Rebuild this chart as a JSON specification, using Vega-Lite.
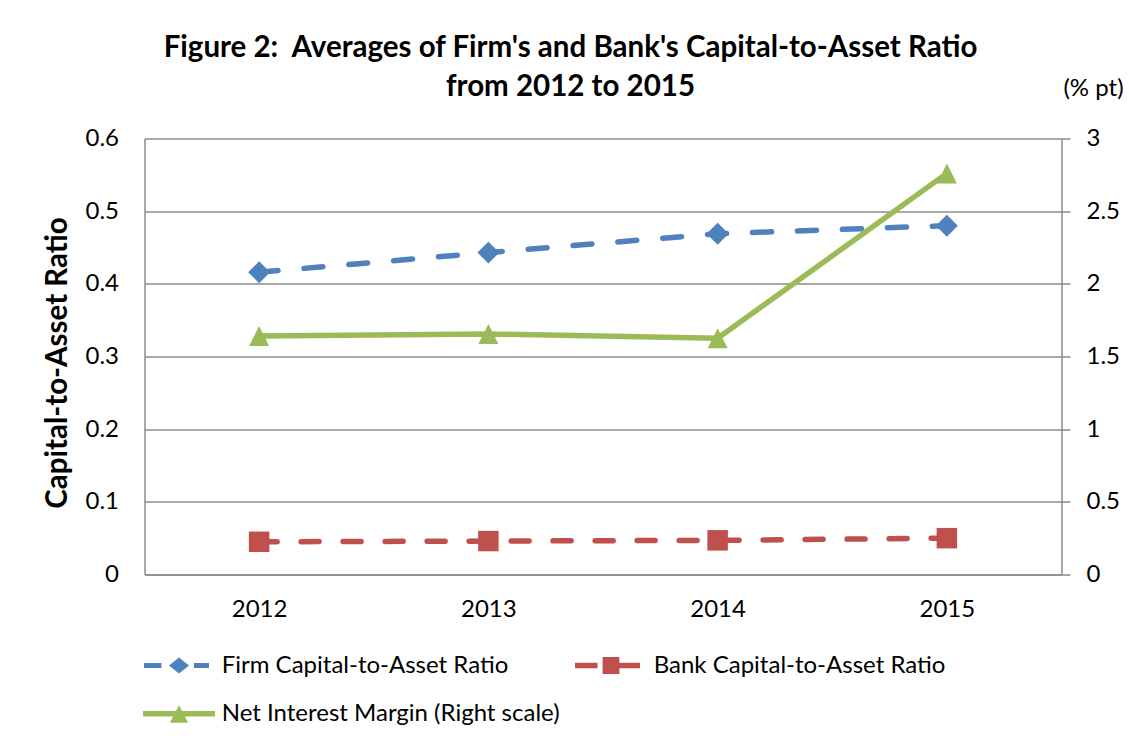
{
  "$schema": "https://vega.github.io/schema/vega-lite/v6.json",
  "width": 917,
  "height": 436,
  "autosize": {"type": "none"},
  "padding": {"left": 144.5, "top": 138.5, "right": 67.5, "bottom": 172},
  "background": "white",
  "title": {
    "text": ["Figure 2:\u00a0 Averages of Firm's and Bank's Capital-to-Asset Ratio", "from 2012 to 2015"],
    "font": "Lato",
    "fontSize": 29.5,
    "fontWeight": "bold",
    "color": "black",
    "anchor": "middle",
    "frame": "group",
    "dx": -32.5,
    "dy": 66,
    "lineHeight": 39,
    "offset": 40
  },
  "config": {
    "font": "Lato",
    "view": {"stroke": null},
    "axis": {
      "labelFont": "Lato",
      "labelFontSize": 24,
      "labelColor": "black",
      "titleFont": "Lato",
      "titleColor": "black",
      "domainColor": "#8c8c8c",
      "domainWidth": 1.5,
      "gridColor": "#8c8c8c",
      "gridWidth": 1.5,
      "tickColor": "#8c8c8c",
      "tickWidth": 1.5
    },
    "legend": {
      "labelFont": "Lato",
      "labelFontSize": 24,
      "labelColor": "black",
      "labelLimit": 0
    }
  },
  "data": {
    "values": [
      {"year": "2012", "series": "Firm Capital-to-Asset Ratio", "value": 0.416},
      {"year": "2013", "series": "Firm Capital-to-Asset Ratio", "value": 0.443},
      {"year": "2014", "series": "Firm Capital-to-Asset Ratio", "value": 0.469},
      {"year": "2015", "series": "Firm Capital-to-Asset Ratio", "value": 0.480},
      {"year": "2012", "series": "Bank Capital-to-Asset Ratio", "value": 0.045},
      {"year": "2013", "series": "Bank Capital-to-Asset Ratio", "value": 0.046},
      {"year": "2014", "series": "Bank Capital-to-Asset Ratio", "value": 0.047},
      {"year": "2015", "series": "Bank Capital-to-Asset Ratio", "value": 0.050},
      {"year": "2012", "series": "Net Interest Margin (Right scale)", "value": 1.641},
      {"year": "2013", "series": "Net Interest Margin (Right scale)", "value": 1.655},
      {"year": "2014", "series": "Net Interest Margin (Right scale)", "value": 1.625},
      {"year": "2015", "series": "Net Interest Margin (Right scale)", "value": 2.76}
    ]
  },
  "encoding": {
    "x": {
      "field": "year",
      "type": "ordinal",
      "scale": {"type": "point", "padding": 0.5},
      "axis": {"title": null, "labelAngle": 0, "ticks": false, "grid": false, "labelPadding": 23}
    }
  },
  "layer": [
    {
      "encoding": {
        "y": {
          "field": "value",
          "type": "quantitative",
          "scale": {"domain": [0, 0.6], "nice": false, "zero": true},
          "axis": {
            "orient": "left",
            "values": [0, 0.1, 0.2, 0.3, 0.4, 0.5, 0.6],
            "format": "~g",
            "ticks": false,
            "grid": true,
            "labelPadding": 26,
            "title": "Capital-to-Asset Ratio",
            "titleFontSize": 29.5,
            "titleFontWeight": "bold",
            "titleAngle": -90,
            "titleX": -87,
            "titleY": 224,
            "titleAlign": "center",
            "titleBaseline": "middle"
          }
        }
      },
      "layer": [
        {
          "transform": [{"filter": "datum.series == 'Firm Capital-to-Asset Ratio'"}],
          "mark": {"type": "line", "color": "#4F81BD", "strokeWidth": 5.5, "strokeDash": [19, 26], "strokeCap": "round"}
        },
        {
          "transform": [{"filter": "datum.series == 'Bank Capital-to-Asset Ratio'"}],
          "mark": {"type": "line", "color": "#C0504D", "strokeWidth": 5.5, "strokeDash": [18, 24], "strokeCap": "round"}
        },
        {
          "transform": [{"filter": "datum.series == 'Firm Capital-to-Asset Ratio'"}],
          "mark": {"type": "point", "shape": "diamond", "filled": true, "opacity": 1, "color": "#4F81BD", "size": 480}
        },
        {
          "transform": [{"filter": "datum.series == 'Bank Capital-to-Asset Ratio'"}],
          "mark": {"type": "point", "shape": "square", "filled": true, "opacity": 1, "color": "#C0504D", "size": 420}
        },
        {
          "transform": [{"filter": "datum.year == 'none'"}],
          "mark": {"type": "point", "filled": true, "opacity": 1},
          "encoding": {
            "color": {
              "field": "series",
              "type": "nominal",
              "scale": {
                "domain": ["Firm Capital-to-Asset Ratio", "Bank Capital-to-Asset Ratio", "Net Interest Margin (Right scale)"],
                "range": ["#4F81BD", "#C0504D", "#9BBB59"]
              },
              "legend": {
                "title": null,
                "orient": "none",
                "legendX": 14.5,
                "legendY": 507,
                "direction": "horizontal",
                "columns": 2,
                "columnPadding": 15,
                "rowPadding": 16.2,
                "padding": 0,
                "symbolSize": 1600,
                "symbolStrokeWidth": 0,
                "labelOffset": 22.7,
                "labelFontSize": 24,
                "labelLimit": 0
              }
            },
            "shape": {
              "field": "series",
              "type": "nominal",
              "scale": {
                "domain": ["Firm Capital-to-Asset Ratio", "Bank Capital-to-Asset Ratio", "Net Interest Margin (Right scale)"],
                "range": [
                  "M-1.75,-0.125H-0.88V0.125H-1.75Z M-0.5,0L0,-0.4L0.5,0L0,0.4Z M0.75,-0.125H1.5V0.125H0.75Z",
                  "M-1.8,-0.14H-0.67V0.14H-1.8Z M-0.42,-0.42H0.42V0.42H-0.42Z M0.42,-0.14H1.45V0.14H0.42Z",
                  "M-1.8,-0.14H1.8V0.14H-1.8Z M0,-0.42L0.46,0.45L-0.46,0.45Z"
                ]
              },
              "legend": {
                "title": null,
                "orient": "none",
                "legendX": 14.5,
                "legendY": 507,
                "direction": "horizontal",
                "columns": 2,
                "columnPadding": 15,
                "rowPadding": 16.2,
                "padding": 0,
                "symbolSize": 1600,
                "symbolStrokeWidth": 0,
                "labelOffset": 22.7,
                "labelFontSize": 24,
                "labelLimit": 0
              }
            }
          }
        }
      ]
    },
    {
      "transform": [{"filter": "datum.series == 'Net Interest Margin (Right scale)'"}],
      "encoding": {
        "y": {
          "field": "value",
          "type": "quantitative",
          "scale": {"domain": [0, 3], "nice": false, "zero": true},
          "axis": {
            "orient": "right",
            "values": [0, 0.5, 1, 1.5, 2, 2.5, 3],
            "format": "~g",
            "ticks": true,
            "tickSize": 8.5,
            "grid": false,
            "labelPadding": 16,
            "title": "(% pt)",
            "titleFontSize": 24,
            "titleFontWeight": "normal",
            "titleAngle": 0,
            "titleX": 31.5,
            "titleY": -50.5,
            "titleAlign": "center",
            "titleBaseline": "middle"
          }
        }
      },
      "layer": [
        {
          "mark": {"type": "line", "color": "#9BBB59", "strokeWidth": 5.5, "strokeCap": "round"}
        },
        {
          "mark": {"type": "point", "shape": "M0,-1L1,1L-1,1Z", "filled": true, "opacity": 1, "color": "#9BBB59", "size": 400}
        }
      ]
    }
  ],
  "resolve": {"scale": {"y": "independent"}}
}
